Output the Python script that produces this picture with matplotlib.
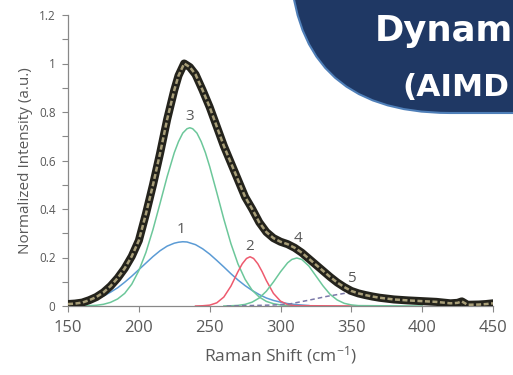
import numpy as np
import matplotlib
matplotlib.use("Agg")
import matplotlib.pyplot as plt
from matplotlib.patches import FancyBboxPatch

plt.rcParams['font.family'] = ['Open Sans', 'DejaVu Sans']
plt.rcParams['mathtext.default'] = 'regular'

shift = [150, 155, 160, 165, 170, 175, 180, 185, 190, 195, 200, 205, 210, 215,
         220, 225, 228, 232, 236, 240, 245, 250, 255, 260, 265, 270, 275, 280,
         285, 290, 295, 300, 305, 310, 315, 320, 325, 330, 335, 340, 345, 350,
         355, 360, 365, 370, 380, 390, 400, 410, 420, 425, 428, 432, 440, 445, 450]
intensity = [0.008, 0.010, 0.014, 0.024, 0.037, 0.056, 0.082, 0.115, 0.155, 0.205,
             0.27, 0.38, 0.50, 0.63, 0.77, 0.89, 0.95, 1.0, 0.985, 0.955, 0.89,
             0.82, 0.74, 0.66, 0.59, 0.52, 0.45, 0.40, 0.345, 0.305, 0.28, 0.265,
             0.255, 0.24, 0.22, 0.195, 0.17, 0.145, 0.12, 0.097, 0.078, 0.062,
             0.052, 0.045, 0.039, 0.034, 0.027, 0.023, 0.020, 0.017, 0.011, 0.013,
             0.019, 0.005, 0.006, 0.008, 0.011]

# fitted components
x1 = [150, 160, 170, 175, 180, 185, 190, 195, 200, 205, 210, 215, 220, 225, 228,
      231, 234, 240, 245, 250, 255, 260, 265, 270, 275, 280, 285, 290, 295, 300,
      305, 310, 315, 320]
y1 = [0.005, 0.013, 0.029, 0.041, 0.057, 0.075, 0.098, 0.123, 0.150, 0.177, 0.204,
      0.228, 0.247, 0.259, 0.263, 0.265, 0.264, 0.253, 0.236, 0.214, 0.188, 0.161,
      0.133, 0.107, 0.084, 0.064, 0.047, 0.033, 0.023, 0.016, 0.010, 0.0065,
      0.004, 0.002]

x3 = [160, 170, 175, 180, 185, 190, 195, 200, 205, 210, 215, 220, 225, 228, 231,
      234, 236, 238, 241, 244, 247, 250, 255, 260, 265, 270, 275, 280, 285, 290,
      295, 300, 305, 320]
y3 = [0.0, 0.003, 0.007, 0.015, 0.029, 0.052, 0.090, 0.146, 0.221, 0.316, 0.424,
      0.534, 0.632, 0.678, 0.713, 0.731, 0.735, 0.731, 0.713, 0.678, 0.632, 0.575,
      0.468, 0.358, 0.257, 0.173, 0.110, 0.065, 0.037, 0.019, 0.0095, 0.0044,
      0.002, 0.0]

x2 = [240, 245, 250, 255, 260, 265, 270, 273, 276, 278.5, 281, 284, 287, 290, 295,
      300, 305, 310, 360]
y2 = [0.0, 0.001, 0.0035, 0.013, 0.037, 0.082, 0.142, 0.174, 0.196, 0.203, 0.196,
      0.174, 0.142, 0.105, 0.052, 0.020, 0.006, 0.0014, 0.0]

x4 = [260, 265, 270, 275, 280, 285, 290, 295, 300, 305, 308, 311.5, 315, 320, 325,
      330, 335, 340, 345, 350, 355, 400]
y4 = [0.0, 0.001, 0.0025, 0.0066, 0.016, 0.033, 0.061, 0.099, 0.141, 0.178, 0.192,
      0.198, 0.192, 0.165, 0.124, 0.083, 0.048, 0.025, 0.011, 0.0045, 0.0016, 0.0]

x5 = [262, 280, 295, 307, 320, 333, 345, 355, 370, 390, 410, 430]
y5 = [0.0, 0.002, 0.004, 0.009, 0.024, 0.040, 0.052, 0.050, 0.030, 0.015, 0.006, 0.002]

peak_labels = ["1", "2", "3", "4", "5"]
label_x = [230, 278, 236, 312, 350]
label_y = [0.315, 0.245, 0.78, 0.28, 0.115]

fig = plt.figure(figsize=(5.13, 3.75), dpi=100)
ax = fig.add_axes([0.1326, 0.184, 0.8284, 0.776])

ax.plot(x1, y1, color="#5b9bd5", lw=1.1, zorder=2)
ax.plot(x3, y3, color="#6cc79a", lw=1.1, zorder=2)
ax.plot(x2, y2, color="#ee5a6e", lw=1.1, zorder=2)
ax.plot(x4, y4, color="#6cc79a", lw=1.1, zorder=2)
ax.plot(x5, y5, color="#7a78a8", lw=1.1, ls=(0, (3, 2)), zorder=2)

ax.plot(shift, intensity, color="#24231c", lw=5.8, solid_capstyle="round",
        solid_joinstyle="round", zorder=3)
ax.plot(shift, intensity, color="#a89e78", lw=1.8, ls=(0, (2, 1)),
        solid_joinstyle="round", zorder=4)

for t, lx, ly in zip(peak_labels, label_x, label_y):
    ax.text(lx, ly, t, ha="center", va="center", fontsize=11, color="#595959")

ax.set_xlim(150, 450)
ax.set_ylim(0, 1.2)
ax.set_xticks(np.arange(150, 451, 50))
ax.set_yticks(np.arange(0, 1.21, 0.2))
ax.set_yticks(np.arange(0, 1.21, 0.1), minor=True)
ax.set_yticklabels(["0", "0.2", "0.4", "0.6", "0.8", "1", "1.2"])
ax.tick_params(axis="x", direction="out", length=4, width=0.8, color="#888888",
               labelsize=12, labelcolor="#595959", pad=6)
ax.tick_params(axis="y", which="both", direction="out", length=4, width=0.8,
               color="#888888", labelsize=8.5, labelcolor="#595959", pad=5)
for s in ["top", "right"]:
    ax.spines[s].set_visible(False)
for s in ["left", "bottom"]:
    ax.spines[s].set_color("#888888")
    ax.spines[s].set_linewidth(0.9)
ax.set_xlabel("Raman Shift (cm$^{-1}$)", fontsize=12.5, color="#595959", labelpad=6)
ax.set_ylabel("Normalized Intensity (a.u.)", fontsize=11, color="#595959", labelpad=4)

# title banner in the top right corner (cut by the slide edge)
ov = fig.add_axes([0, 0, 1, 1], zorder=10)
ov.set_xlim(0, 513)
ov.set_ylim(375, 0)
ov.axis("off")
ov.patch.set_alpha(0)
ov.add_patch(FancyBboxPatch((290, -400), 700, 513,
                            boxstyle="round,pad=0,rounding_size=160",
                            facecolor="#1f3864", edgecolor="#4f7fb8", lw=1.5))
ov.text(375, 41, "Dynam", color="white", fontsize=25.5, fontweight="bold",
        family="DejaVu Sans", va="baseline", ha="left")
ov.text(402, 96, "(AIMD", color="white", fontsize=22.5, fontweight="bold",
        family="DejaVu Sans", va="baseline", ha="left")

fig.savefig("out.png", dpi=100)
